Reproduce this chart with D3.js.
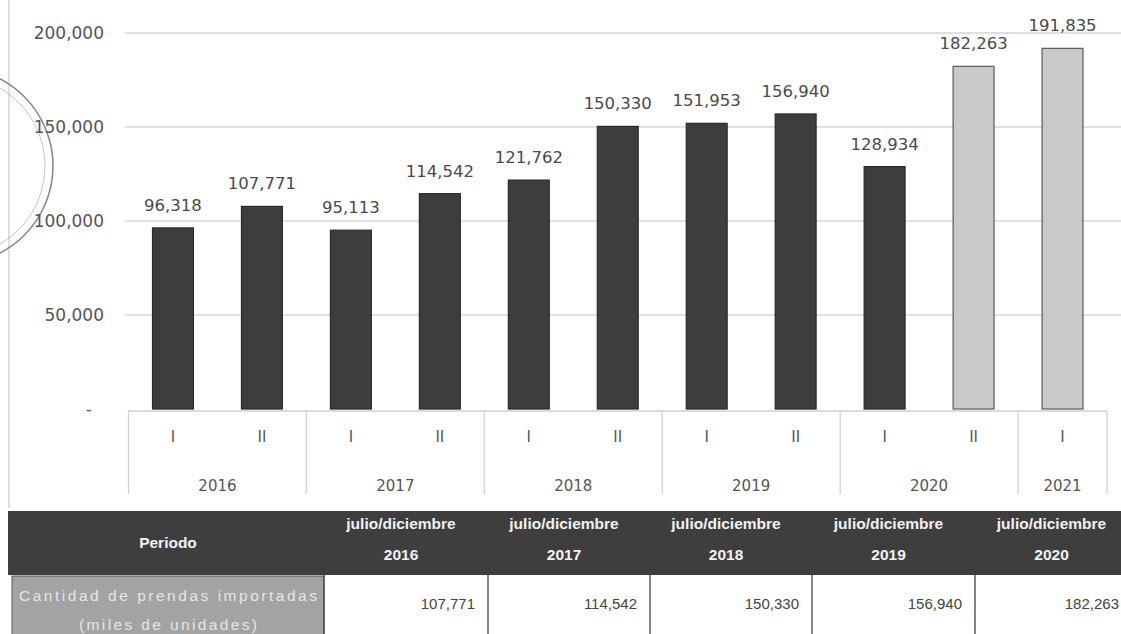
<!DOCTYPE html>
<html>
<head>
<meta charset="utf-8">
<script src="https://cdn.jsdelivr.net/npm/d3@7"></script>
<style>
  html, body { margin: 0; padding: 0; background: #fff; }
  svg { display: block; }
</style>
</head>
<body>
<svg id="chart" width="1121" height="634"></svg>
<script>
// Semesters (I / II) and their years
const semesters = ["I", "II", "I", "II", "I", "II", "I", "II", "I", "II", "I"];
const years = ["2016", "2016", "2017", "2017", "2018", "2018", "2019", "2019", "2020", "2020", "2021"];
// Imported garments (thousands of units)
const values = [96318, 107771, 95113, 114542, 121762, 150330, 151953, 156940, 128934, 182263, 191835];
// Status of each semester figure
const status = ["real", "real", "real", "real", "real", "real", "real", "real", "real", "proyectado", "proyectado"];
// Y axis ticks
const yTicks = [0, 50000, 100000, 150000, 200000];

// Summary table: July–December of each year
const tablePeriodLabel = "Periodo";
const tableRowLabel = ["Cantidad de prendas importadas", "(miles de unidades)"];
const tableMonths = ["julio/diciembre", "julio/diciembre", "julio/diciembre", "julio/diciembre", "julio/diciembre"];
const tableYears = ["2016", "2017", "2018", "2019", "2020"];
const tableValues = [107771, 114542, 150330, 156940, 182263];

const svg = d3.select("#chart");
const W = 1121, H = 634;

const fill = { real: "#3d3d3d", proyectado: "#c9c9c9" };
const stroke = { real: "#2a2a2a", proyectado: "#5a5a5a" };

const plotLeft = 128.5, plotRight = 1107, plotTop = 33, plotBottom = 409;

const x = d3.scaleBand()
  .domain(d3.range(values.length))
  .range([plotLeft, plotRight])
  .paddingInner(0.54)
  .paddingOuter(0.27);

const y = d3.scaleLinear()
  .domain([0, 200000])
  .range([plotBottom, plotTop]);

const labelFont = "'DejaVu Sans', sans-serif";
const fmt = d3.format(",");

// Page border line on the left
svg.append("line")
  .attr("x1", 9).attr("x2", 9).attr("y1", 0).attr("y2", 508)
  .attr("stroke", "#d4d4d4").attr("stroke-width", 1.5);

// Seal on the left edge
const seal = svg.append("g").attr("fill", "none").attr("stroke", "#8a8a8a");
seal.append("circle").attr("cx", -45).attr("cy", 166).attr("r", 98).attr("stroke-width", 1.6);
seal.append("circle").attr("cx", -45).attr("cy", 166).attr("r", 90).attr("stroke-width", 0.8).attr("stroke", "#b5b5b5");

// Gridlines
svg.append("g")
  .selectAll("line")
  .data(yTicks.filter(d => d > 0))
  .join("line")
  .attr("x1", plotLeft - 4).attr("x2", W)
  .attr("y1", d => y(d)).attr("y2", d => y(d))
  .attr("stroke", "#d6d6d6").attr("stroke-width", 1.3);

// Y axis labels
const yAxis = d3.axisLeft(y)
  .tickValues(yTicks)
  .tickSize(0)
  .tickPadding(0)
  .tickFormat(d => d === 0 ? "-" : fmt(d));

svg.append("g")
  .attr("transform", `translate(${104},0)`)
  .call(yAxis)
  .call(g => g.select(".domain").remove())
  .call(g => g.selectAll("text")
    .attr("font-family", labelFont)
    .attr("font-size", 17)
    .attr("fill", "#555")
    .attr("dy", "0.35em")
    .attr("dx", d => d === 0 ? -12 : 0));

// Bars
svg.append("g")
  .selectAll("rect")
  .data(values)
  .join("rect")
  .attr("x", (d, i) => x(i))
  .attr("y", d => y(d))
  .attr("width", x.bandwidth())
  .attr("height", d => y(0) - y(d))
  .attr("fill", (d, i) => fill[status[i]])
  .attr("stroke", (d, i) => stroke[status[i]])
  .attr("stroke-width", 1.2);

// Value labels
svg.append("g")
  .selectAll("text")
  .data(values)
  .join("text")
  .attr("x", (d, i) => x(i) + x.bandwidth() / 2)
  .attr("y", d => y(d) - 17)
  .attr("text-anchor", "middle")
  .attr("font-family", labelFont)
  .attr("font-size", 16.5)
  .attr("fill", "#4a4a4a")
  .text(d => fmt(d));

// Category axis: baseline, semester labels, year groups
const catAxis = svg.append("g");
catAxis.append("line")
  .attr("x1", plotLeft).attr("x2", plotRight)
  .attr("y1", plotBottom + 2).attr("y2", plotBottom + 2)
  .attr("stroke", "#cfcfcf").attr("stroke-width", 1.3);

const xAxis = d3.axisBottom(x).tickSize(0).tickPadding(0).tickFormat(i => semesters[i]);
catAxis.append("g")
  .attr("transform", `translate(0,${plotBottom})`)
  .call(xAxis)
  .call(g => g.select(".domain").remove())
  .call(g => g.selectAll("text")
    .attr("y", 28)
    .attr("dy", "0.35em")
    .attr("font-family", labelFont)
    .attr("font-size", 15)
    .attr("fill", "#555"));

const yearGroups = d3.groups(d3.range(values.length), i => years[i]);
const step = x.step();
const groupBounds = yearGroups.map(([yr, idx]) => ({
  year: yr,
  x0: x(idx[0]) - (step - x.bandwidth()) / 2,
  x1: x(idx[idx.length - 1]) + x.bandwidth() + (step - x.bandwidth()) / 2
}));

catAxis.selectAll("line.sep")
  .data([groupBounds[0].x0, ...groupBounds.map(g => g.x1)])
  .join("line")
  .attr("class", "sep")
  .attr("x1", d => d).attr("x2", d => d)
  .attr("y1", plotBottom + 2).attr("y2", 494)
  .attr("stroke", "#d2d2d2").attr("stroke-width", 1.3);

catAxis.selectAll("text.year")
  .data(groupBounds)
  .join("text")
  .attr("class", "year")
  .attr("x", d => (d.x0 + d.x1) / 2)
  .attr("y", 486)
  .attr("dy", "0.35em")
  .attr("text-anchor", "middle")
  .attr("font-family", labelFont)
  .attr("font-size", 15)
  .attr("fill", "#555")
  .text(d => d.year);

// Summary table
const tbl = svg.append("g");
const headTop = 511, headBottom = 575;
const colEdges = [12, 324, 488, 650, 812, 975, 1138];
const tableFont = "'Liberation Sans', Arial, sans-serif";

tbl.append("rect")
  .attr("x", 8).attr("y", headTop)
  .attr("width", W - 8).attr("height", headBottom - headTop)
  .attr("fill", "#3e3e3e");

tbl.append("text")
  .attr("x", (colEdges[0] + colEdges[1]) / 2)
  .attr("y", 543)
  .attr("dy", "0.35em")
  .attr("text-anchor", "middle")
  .attr("font-family", tableFont)
  .attr("font-weight", "bold")
  .attr("font-size", 15.5)
  .attr("fill", "#f2f2f2")
  .text(tablePeriodLabel);

const heads = tbl.selectAll("g.head")
  .data(tableYears)
  .join("g")
  .attr("class", "head")
  .attr("transform", (d, i) => `translate(${(colEdges[i + 1] + colEdges[i + 2]) / 2 - 5},0)`);
heads.append("text")
  .attr("y", 524).attr("dy", "0.35em")
  .attr("text-anchor", "middle")
  .attr("font-family", tableFont).attr("font-weight", "bold")
  .attr("font-size", 15.5).attr("fill", "#f2f2f2")
  .text((d, i) => tableMonths[i]);
heads.append("text")
  .attr("y", 555).attr("dy", "0.35em")
  .attr("text-anchor", "middle")
  .attr("font-family", tableFont).attr("font-weight", "bold")
  .attr("font-size", 15.5).attr("fill", "#f2f2f2")
  .text(d => d);

// Row label cell
tbl.append("rect")
  .attr("x", colEdges[0]).attr("y", headBottom + 1)
  .attr("width", colEdges[1] - colEdges[0]).attr("height", H - headBottom)
  .attr("fill", "#a3a3a3")
  .attr("stroke", "#555").attr("stroke-width", 1);

tbl.selectAll("text.rowlabel")
  .data(tableRowLabel)
  .join("text")
  .attr("class", "rowlabel")
  .attr("x", (colEdges[0] + colEdges[1]) / 2)
  .attr("y", (d, i) => 596 + i * 29)
  .attr("dy", "0.35em")
  .attr("text-anchor", "middle")
  .attr("font-family", tableFont)
  .attr("font-size", 15.5)
  .attr("fill", "#e6e6e6")
  .attr("textLength", (d, i) => i === 0 ? 298 : 178)
  .attr("lengthAdjust", "spacing")
  .text(d => d);

// Value cells
tbl.selectAll("line.colsep")
  .data(colEdges.slice(1, 6))
  .join("line")
  .attr("class", "colsep")
  .attr("x1", d => d).attr("x2", d => d)
  .attr("y1", headBottom).attr("y2", H)
  .attr("stroke", "#444").attr("stroke-width", 1.3);

tbl.selectAll("text.val")
  .data(tableValues)
  .join("text")
  .attr("class", "val")
  .attr("x", (d, i) => Math.min(colEdges[i + 2] - 13, W - 2))
  .attr("y", 604)
  .attr("dy", "0.35em")
  .attr("text-anchor", "end")
  .attr("font-family", tableFont)
  .attr("font-size", 15)
  .attr("fill", "#444")
  .text(d => fmt(d));
</script>
</body>
</html>
